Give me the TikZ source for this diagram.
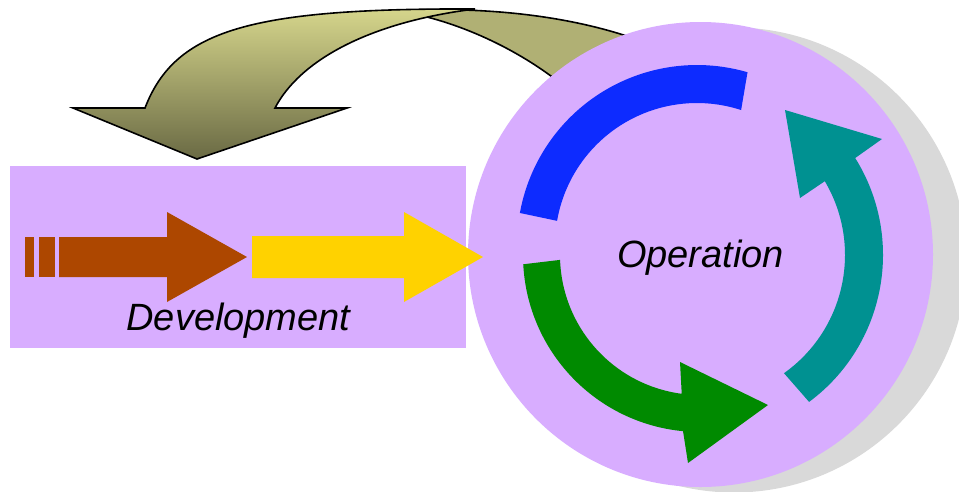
\documentclass[tikz,border=0pt]{standalone}
\usepackage{fontspec}
\setmainfont{Liberation Sans}

\definecolor{lilac}{RGB}{216,173,255}
\definecolor{shadowgray}{RGB}{217,217,217}
\definecolor{rust}{RGB}{173,71,0}
\definecolor{gold}{RGB}{255,210,0}
\definecolor{royal}{RGB}{13,43,255}
\definecolor{leaf}{RGB}{0,138,0}
\definecolor{sea}{RGB}{0,145,145}
\definecolor{olivelight}{RGB}{214,214,140}
\definecolor{olivedark}{RGB}{106,106,68}
\definecolor{oliveback}{RGB}{176,176,116}

\begin{document}
\begin{tikzpicture}[x=1pt,y=-1pt,
  outline/.style={draw=black,line width=1.6pt,line join=miter},
  bigtext/.style={font=\fontsize{38}{40}\selectfont\itshape,inner sep=0pt,anchor=base}]
\useasboundingbox (0,0) rectangle (959,491);
\clip (0,0) rectangle (959,491);
\fill[white] (0,0) rectangle (959,491);

% loop-back arrow: far limb (runs behind the disc)
\filldraw[fill=oliveback,outline]
  (395,11) .. controls (480,6) and (585,14) .. (668,52)
  -- (585,105) .. controls (545,65) and (485,32) .. (427,17) -- cycle;

% loop-back arrow: near limb with its head
\draw[outline,top color=olivelight,bottom color=olivedark]
  (73,108) -- (145,108) .. controls (175,30) and (250,8) .. (475,9)
  .. controls (370,22) and (300,60) .. (275,108)
  -- (347,108) -- (197,159) -- cycle;

% development panel
\fill[lilac] (10,166) rectangle (466,348);

% brown arrow with its striped tail
\fill[rust] (25,237) rectangle (34,277);
\fill[rust] (39,237) rectangle (55,277);
\fill[rust] (59,237) -- (167,237) -- (167,212) -- (247,257)
  -- (167,302) -- (167,277) -- (59,277) -- cycle;

% operation disc and its shadow
\fill[shadowgray] (734,260) circle[radius=232.5];
\fill[lilac] (700.5,254.5) circle[radius=232.5];

% yellow arrow entering the disc
\fill[gold] (252,236) -- (404,236) -- (404,212) -- (483,257)
  -- (404,302) -- (404,278) -- (252,278) -- cycle;

% cycle of arcs inside the disc
\coordinate (bc) at (697,245);
\coordinate (oc) at (700,255);

\fill[royal] ([shift={(bc)}]-73.7:180)
  arc[start angle=-73.7,end angle=-169.75,radius=180]
  -- ([shift={(bc)}]-170.2:142)
  arc[start angle=-170.2,end angle=-71.9,radius=142] -- cycle;

\fill[leaf] ([shift={(oc)}]177:177)
  arc[start angle=177,end angle=95.5,radius=177]
  -- (688,463) -- (768,405) -- (680,362)
  -- ([shift={(oc)}]97.5:140)
  arc[start angle=97.5,end angle=178,radius=140] -- cycle;

\fill[sea] ([shift={(oc)}]53.4:183)
  arc[start angle=53.4,end angle=-32,radius=183]
  -- (882,139) -- (785,110) -- (800,198)
  -- ([shift={(oc)}]-30.6:145)
  arc[start angle=-30.6,end angle=54.6,radius=145] -- cycle;

% labels
\node[bigtext] (dev) at (238.5,330.5) {Development};
\node[bigtext] (op) at (700.5,267) {Operation};
\end{tikzpicture}
\end{document}
